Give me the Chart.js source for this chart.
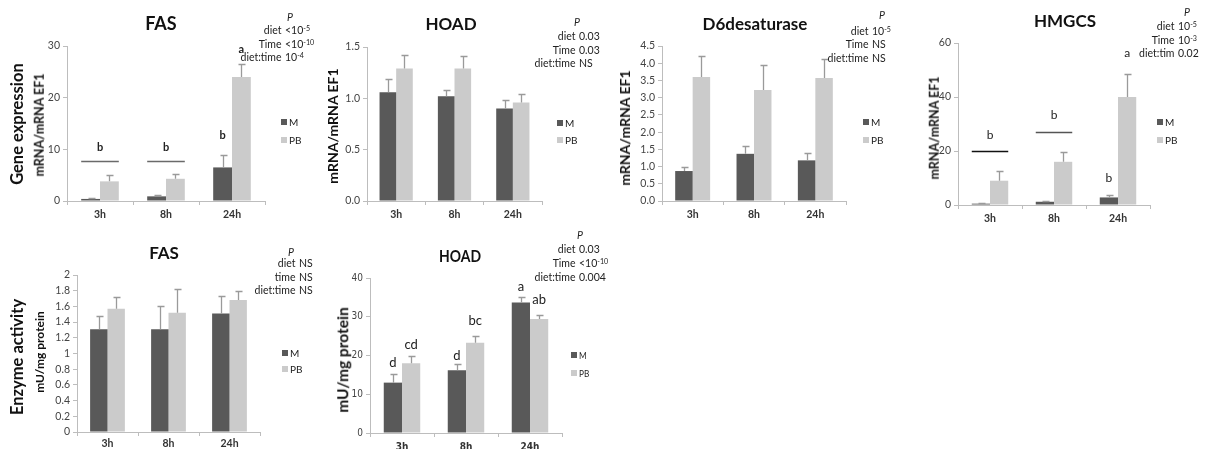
<!DOCTYPE html>
<html><head><meta charset="utf-8">
<script src="https://cdn.jsdelivr.net/npm/chart.js@4.4.0/dist/chart.umd.min.js"></script>
<style>
html,body{margin:0;padding:0;background:#fff}
body{width:1210px;height:449px;position:relative;overflow:hidden;font-family:Lato,'DejaVu Sans',sans-serif;color:#222}
canvas{position:absolute;left:0;top:0}
.t{position:absolute;white-space:nowrap;line-height:1}
.t sup{font-size:0.68em;vertical-align:0.45em;line-height:0}
.sq{position:absolute;width:6px;height:6px}
</style></head><body>
<script>
// ---------- data ----------
const categories = ['3h', '8h', '24h'];
const seriesNames = ['M', 'PB'];

// Gene expression: FAS
const fasGeneM = [0.4, 0.9, 6.5];
const fasGenePB = [3.8, 4.3, 24.0];
const fasGeneErrM = [0.15, 0.2, 2.5];
const fasGeneErrPB = [1.3, 0.9, 2.5];
const fasGeneTicks = [0, 10, 20, 30];

// Gene expression: HOAD
const hoadGeneM = [1.06, 1.02, 0.90];
const hoadGenePB = [1.29, 1.29, 0.96];
const hoadGeneErrM = [0.13, 0.06, 0.08];
const hoadGeneErrPB = [0.13, 0.12, 0.08];
const hoadGeneTicks = [0, 0.5, 1.0, 1.5];

// Gene expression: D6desaturase
const d6GeneM = [0.87, 1.37, 1.18];
const d6GenePB = [3.60, 3.22, 3.57];
const d6GeneErrM = [0.11, 0.23, 0.22];
const d6GeneErrPB = [0.62, 0.74, 0.55];
const d6GeneTicks = [0, 0.5, 1.0, 1.5, 2.0, 2.5, 3.0, 3.5, 4.0, 4.5];

// Gene expression: HMGCS
const hmgcsGeneM = [0.5, 1.2, 2.8];
const hmgcsGenePB = [9.0, 16.0, 40.0];
const hmgcsGeneErrM = [0.3, 0.4, 0.9];
const hmgcsGeneErrPB = [3.7, 3.7, 8.5];
const hmgcsGeneTicks = [0, 20, 40, 60];

// Enzyme activity: FAS
const fasEnzM = [1.31, 1.31, 1.51];
const fasEnzPB = [1.57, 1.52, 1.68];
const fasEnzErrM = [0.17, 0.30, 0.22];
const fasEnzErrPB = [0.15, 0.30, 0.11];
const fasEnzTicks = [0, 0.2, 0.4, 0.6, 0.8, 1, 1.2, 1.4, 1.6, 1.8, 2];

// Enzyme activity: HOAD
const hoadEnzM = [13.0, 16.2, 33.7];
const hoadEnzPB = [18.0, 23.3, 29.4];
const hoadEnzErrM = [2.2, 1.6, 1.3];
const hoadEnzErrPB = [2.0, 1.7, 1.1];
const hoadEnzTicks = [0, 10, 20, 30, 40];

// significance letters: [category index, series index (-1 = category), value, text]
const fasGeneLetters = [[0, -1, 10.3, 'b'], [1, -1, 10.3, 'b'], [2, 0, 12.6, 'b'], [2, 1, 29.3, 'a']];
const fasGeneBrackets = [[0, 7.7], [1, 7.7]];
const hmgcsGeneLetters = [[0, -1, 26, 'b'], [1, -1, 33.3, 'b'], [2, 0, 10, 'b'], [2, 1, 56.3, 'a']];
const hmgcsGeneBrackets = [[0, 20], [1, 27]];
const hoadEnzLetters = [[0, 0, 18, 'd'], [0, 1, 22.7, 'cd'], [1, 0, 20, 'd'], [1, 1, 29, 'bc'], [2, 0, 37.7, 'a'], [2, 1, 34.3, 'ab']];

// P-value tables
const fasGeneP = [['diet', '&lt;10<sup>-5</sup>'], ['Time', '&lt;10<sup>-10</sup>'], ['diet:time', '10<sup>-4</sup>']];
const hoadGeneP = [['diet', '0.03'], ['Time', '0.03'], ['diet:time', 'NS']];
const d6GeneP = [['diet', '10<sup>-5</sup>'], ['Time', 'NS'], ['diet:time', 'NS']];
const hmgcsGeneP = [['diet', '10<sup>-5</sup>'], ['Time', '10<sup>-3</sup>'], ['diet:tim', '0.02']];
const fasEnzP = [['diet', 'NS'], ['time', 'NS'], ['diet:time', 'NS']];
const hoadEnzP = [['diet', '0.03'], ['Time', '&lt;10<sup>-10</sup>'], ['diet:time', '0.004']];

// ---------- styling ----------
const COLOR_M = '#595959';
const COLOR_PB = '#cbcbcb';
const AXIS = '#bdbdbd';
const ERR = '#9a9a9a';
const LATO = "Lato, 'DejaVu Sans', sans-serif";
const NARROW = "'Liberation Sans Narrow', 'DejaVu Sans Condensed', Lato, sans-serif";

Chart.defaults.font.family = LATO;
Chart.defaults.color = '#333';

function addText(html, x, y, o) {
  o = o || {};
  const d = document.createElement('div');
  d.className = 't';
  d.innerHTML = html;
  d.style.left = x + 'px';
  d.style.top = y + 'px';
  d.style.fontSize = (o.size || 10) + 'px';
  d.style.fontWeight = o.weight || 'normal';
  d.style.fontStyle = o.style || 'normal';
  d.style.fontFamily = o.family || LATO;
  if (o.color) d.style.color = o.color;
  const tx = o.align === 'right' ? '-100%' : (o.align === 'left' ? '0' : '-50%');
  const sx = o.scaleX ? ' scaleX(' + o.scaleX + ')' : '';
  d.style.transformOrigin = o.align === 'right' ? '100% 50%' : (o.align === 'left' ? '0 50%' : '50% 50%');
  d.style.transform = 'translate(' + tx + ',-50%)' + (o.rotate ? ' rotate(' + o.rotate + 'deg)' : '') + sx;
  document.body.appendChild(d);
  return d;
}

function makePanel(p) {
  const cv = document.createElement('canvas');
  cv.width = 1210; cv.height = 449;
  cv.style.width = '1210px'; cv.style.height = '449px';
  document.body.appendChild(cv);

  const annot = {
    id: 'annot_' + p.name,
    afterDatasetsDraw(chart) {
      const ctx = chart.ctx, y = chart.scales.y, x = chart.scales.x;
      // error bars (upper only)
      chart.data.datasets.forEach((ds, di) => {
        const meta = chart.getDatasetMeta(di);
        meta.data.forEach((bar, i) => {
          const top = Math.round(y.getPixelForValue(ds.data[i] + ds.errors[i])) + 0.5;
          const bx = Math.round(bar.x) + 0.5;
          ctx.save();
          ctx.strokeStyle = ERR; ctx.lineWidth = 1.3;
          ctx.beginPath();
          ctx.moveTo(bx, bar.y); ctx.lineTo(bx, top);
          ctx.moveTo(bx - 3, top); ctx.lineTo(bx + 4, top);
          ctx.stroke();
          ctx.restore();
        });
      });
      const mMeta = chart.getDatasetMeta(0), pbMeta = chart.getDatasetMeta(1);
      (p.brackets || []).forEach((b, k) => {
        const m = mMeta.data[b[0]], pb = pbMeta.data[b[0]];
        const yy = Math.round(y.getPixelForValue(b[1])) + 0.5;
        ctx.save();
        ctx.strokeStyle = (p.bracketColors || [])[k] || '#6a6a6a';
        ctx.lineWidth = 1.6;
        ctx.beginPath();
        ctx.moveTo(m.x - m.width / 2, yy); ctx.lineTo(pb.x + pb.width / 2, yy);
        ctx.stroke();
        ctx.restore();
      });
      (p.letters || []).forEach(l => {
        const xx = l[1] < 0 ? x.getPixelForValue(l[0]) : chart.getDatasetMeta(l[1]).data[l[0]].x;
        const yy = y.getPixelForValue(l[2]);
        ctx.save();
        ctx.fillStyle = '#222';
        ctx.font = p.letterFont;
        ctx.textAlign = 'center'; ctx.textBaseline = 'middle';
        ctx.fillText(l[3], xx, yy);
        ctx.restore();
      });
    }
  };

  const A = p.area;
  let pad = { left: A.l - 30, top: A.t - 6, right: 1210 - A.r, bottom: 449 - A.b - 20 };
  const chart = new Chart(cv, {
    type: 'bar',
    data: {
      labels: categories,
      datasets: [
        { label: seriesNames[0], data: p.M, errors: p.eM, backgroundColor: COLOR_M },
        { label: seriesNames[1], data: p.PB, errors: p.ePB, backgroundColor: COLOR_PB }
      ]
    },
    options: {
      responsive: false, animation: false, devicePixelRatio: 1,
      layout: { padding: pad },
      events: [],
      plugins: { legend: { display: false }, tooltip: { enabled: false }, title: { display: false } },
      datasets: { bar: { barPercentage: 1, categoryPercentage: 0.57 } },
      scales: {
        x: {
          grid: { display: true, drawOnChartArea: false, drawTicks: true, tickLength: 4, offset: true, color: AXIS },
          border: { display: true, color: AXIS },
          ticks: { padding: p.xPad, font: { size: p.xSize, weight: 'bold', family: p.font }, color: '#333', maxRotation: 0 }
        },
        y: {
          min: 0, max: p.ticks[p.ticks.length - 1],
          afterBuildTicks: (s) => { s.ticks = p.ticks.map(v => ({ value: v })); },
          grid: { display: true, drawOnChartArea: false, drawTicks: true, tickLength: 4, color: AXIS },
          border: { display: true, color: AXIS },
          ticks: { padding: 3, font: { size: p.ySize, family: p.font }, color: '#444', callback: p.fmt }
        }
      }
    },
    plugins: [annot]
  });
  for (let k = 0; k < 4; k++) {
    const ca = chart.chartArea;
    pad = {
      left: pad.left + (A.l - ca.left),
      top: pad.top + (A.t - ca.top),
      right: pad.right + (ca.right - A.r),
      bottom: pad.bottom + (ca.bottom - A.b)
    };
    chart.options.layout.padding = pad;
    chart.update('none');
  }

  // title
  addText(p.title, p.titlePos[0], p.titlePos[1], { size: p.titleSize, weight: 'bold', color: '#111', scaleX: p.narrowX });
  // y axis title
  addText(p.yTitle, p.yTitlePos[0], p.yTitlePos[1], { size: p.yTitleSize, weight: 'bold', rotate: -90, color: '#111' });
  // p-values
  const P = p.pPos;
  addText('P', P.px, P.py, { size: 10.5, style: 'italic', align: 'center' });
  p.pv.forEach((r, i) => {
    addText(r[0], P.x - 1.5, P.rows[i], { size: 10.5, align: 'right' });
    addText(r[1], P.x + 2, P.rows[i], { size: 10.5, align: 'left' });
  });
  // legend
  const L = p.legend;
  [COLOR_M, COLOR_PB].forEach((c, i) => {
    const sq = document.createElement('div');
    sq.className = 'sq'; sq.style.background = c;
    sq.style.left = L.x + 'px'; sq.style.top = (L.ys[i] - 3) + 'px';
    document.body.appendChild(sq);
    addText(seriesNames[i], L.x + 8, L.ys[i], { size: 10, align: 'left', scaleX: p.narrowX });
  });
}

const fmtInt = v => String(v);
const fmt1 = v => (Math.round(v * 10) / 10).toFixed(1);
const fmtPlain = v => String(Math.round(v * 10) / 10);

const panels = [
  { name: 'fasGene', area: { l: 67, t: 46, r: 265, b: 201 }, M: fasGeneM, PB: fasGenePB, eM: fasGeneErrM, ePB: fasGeneErrPB,
    ticks: fasGeneTicks, fmt: fmtInt, font: LATO, xSize: 10.5, ySize: 10.5, xPad: 3,
    letters: fasGeneLetters, brackets: fasGeneBrackets, letterFont: 'bold 11px ' + LATO,
    title: 'FAS', titlePos: [161, 23], titleSize: 18,
    yTitle: 'mRNA/mRNA EF1', yTitlePos: [40, 125], yTitleSize: 12.5,
    pv: fasGeneP, pPos: { px: 290, py: 17, x: 283, rows: [30, 43.5, 57] },
    legend: { x: 281, ys: [122, 140] } },
  { name: 'hoadGene', area: { l: 367, t: 47, r: 542, b: 201 }, M: hoadGeneM, PB: hoadGenePB, eM: hoadGeneErrM, ePB: hoadGeneErrPB,
    ticks: hoadGeneTicks, fmt: fmt1, font: LATO, xSize: 10.5, ySize: 10.5, xPad: 3,
    title: 'HOAD', titlePos: [451, 23], titleSize: 17,
    yTitle: 'mRNA/mRNA EF1', yTitlePos: [333, 126], yTitleSize: 14,
    pv: hoadGeneP, pPos: { px: 577, py: 22, x: 577, rows: [36, 50, 63] },
    legend: { x: 557, ys: [123, 140] } },
  { name: 'd6Gene', area: { l: 662, t: 46, r: 846, b: 201 }, M: d6GeneM, PB: d6GenePB, eM: d6GeneErrM, ePB: d6GeneErrPB,
    ticks: d6GeneTicks, fmt: fmt1, font: LATO, xSize: 10.5, ySize: 10.5, xPad: 3,
    title: 'D6desaturase', titlePos: [755, 23], titleSize: 17,
    yTitle: 'mRNA/mRNA EF1', yTitlePos: [625, 128], yTitleSize: 14,
    pv: d6GeneP, pPos: { px: 882, py: 15, x: 870, rows: [31, 44, 57.5] },
    legend: { x: 863, ys: [122, 140] } },
  { name: 'hmgcsGene', area: { l: 958, t: 43, r: 1150, b: 205 }, M: hmgcsGeneM, PB: hmgcsGenePB, eM: hmgcsGeneErrM, ePB: hmgcsGeneErrPB,
    ticks: hmgcsGeneTicks, fmt: fmtInt, font: LATO, xSize: 10.5, ySize: 10.5, xPad: 3,
    letters: hmgcsGeneLetters, brackets: hmgcsGeneBrackets, bracketColors: ['#111', '#555'], letterFont: '12px ' + LATO,
    title: 'HMGCS', titlePos: [1065, 20], titleSize: 17,
    yTitle: 'mRNA/mRNA EF1', yTitlePos: [935, 128], yTitleSize: 12.5,
    pv: hmgcsGeneP, pPos: { px: 1187, py: 12, x: 1176, rows: [26, 39.5, 52.5] },
    legend: { x: 1157, ys: [122, 140] } },
  { name: 'fasEnz', area: { l: 77, t: 275, r: 260, b: 432 }, M: fasEnzM, PB: fasEnzPB, eM: fasEnzErrM, ePB: fasEnzErrPB,
    ticks: fasEnzTicks, fmt: fmtPlain, font: LATO, xSize: 10.5, ySize: 10.5, xPad: 1,
    title: 'FAS', titlePos: [164, 252], titleSize: 17,
    yTitle: 'mU/mg protein', yTitlePos: [40, 352], yTitleSize: 12,
    pv: fasEnzP, pPos: { px: 291, py: 252, x: 297, rows: [263, 276.5, 290] },
    legend: { x: 282, ys: [353, 369] } },
  { name: 'hoadEnz', area: { l: 370, t: 278, r: 562, b: 433 }, M: hoadEnzM, PB: hoadEnzPB, eM: hoadEnzErrM, ePB: hoadEnzErrPB,
    ticks: hoadEnzTicks, fmt: fmtInt, font: NARROW, xSize: 10, ySize: 10, xPad: 4,
    letters: hoadEnzLetters, letterFont: '13px ' + LATO, narrowX: 0.82,
    title: 'HOAD', titlePos: [460, 255], titleSize: 17,
    yTitle: 'mU/mg protein', yTitlePos: [343, 360], yTitleSize: 15.5,
    pv: hoadEnzP, pPos: { px: 580, py: 235, x: 577, rows: [249, 263, 277] },
    legend: { x: 571, ys: [355, 373] } }
];

panels.forEach(makePanel);

addText('Gene expression', 17, 124, { size: 16.5, weight: 'bold', rotate: -90, color: '#111' });
addText('Enzyme activity', 17, 357, { size: 16.5, weight: 'bold', rotate: -90, color: '#111' });
</script>
</body></html>
